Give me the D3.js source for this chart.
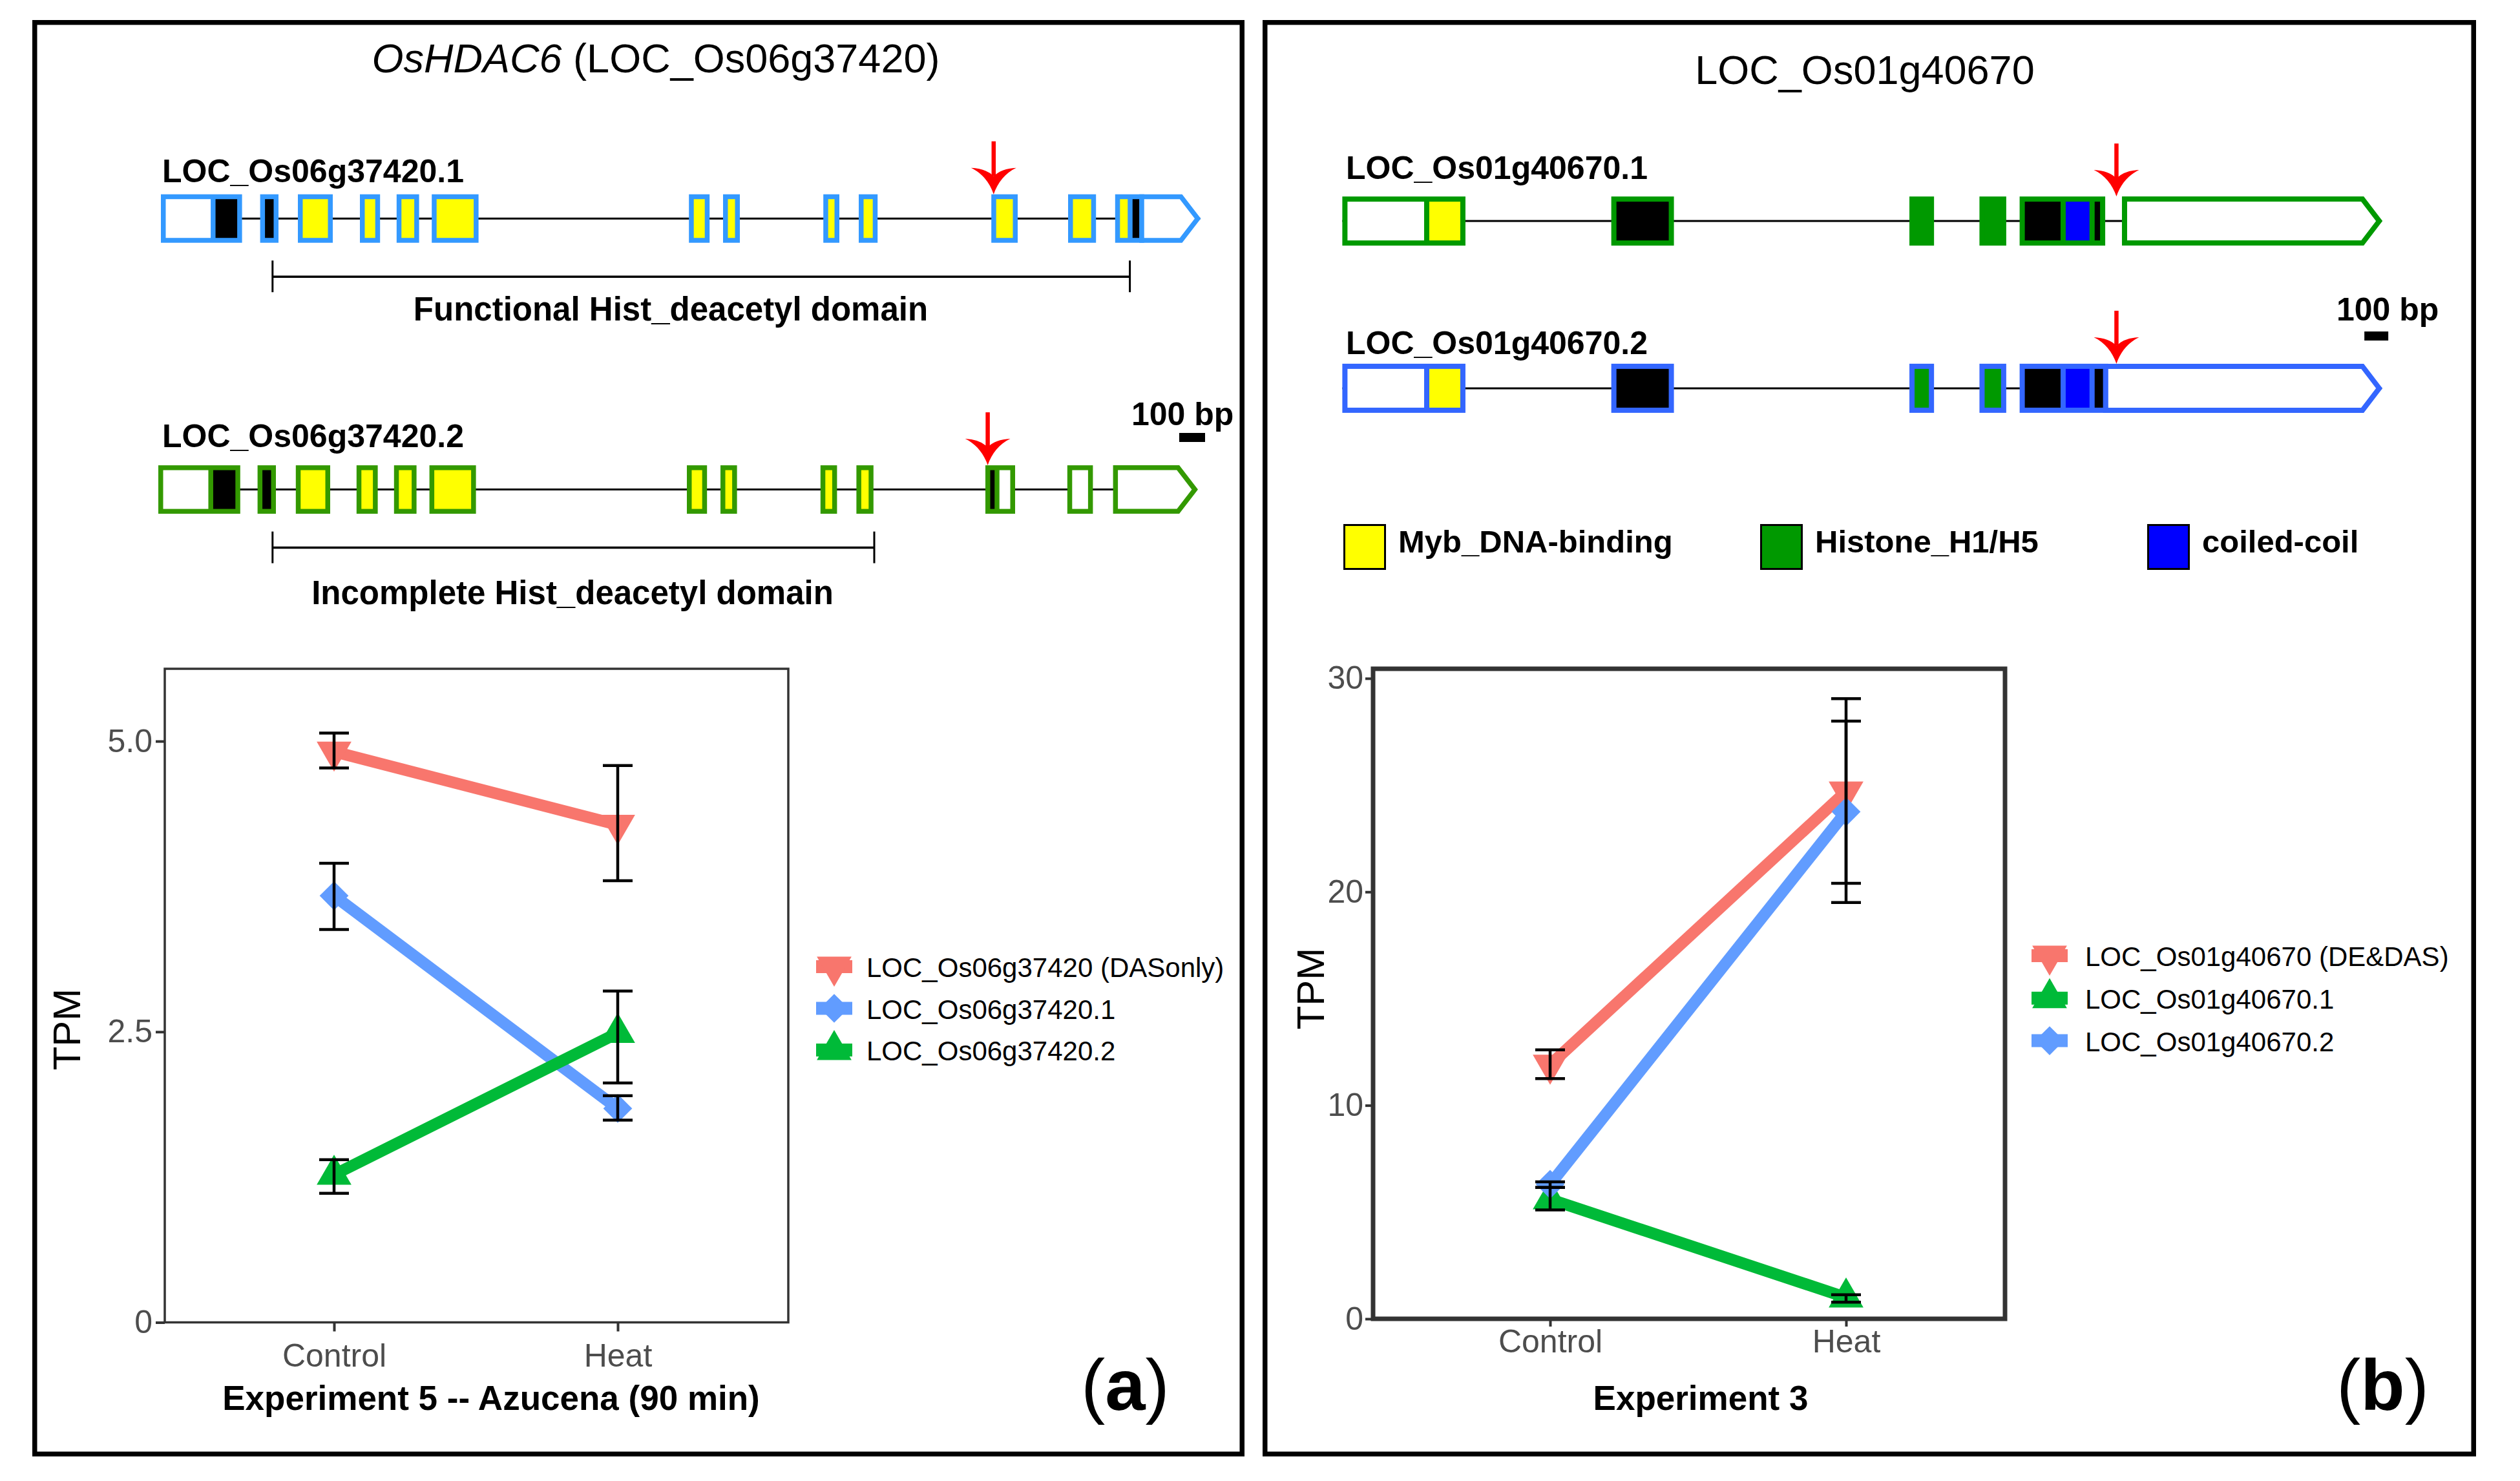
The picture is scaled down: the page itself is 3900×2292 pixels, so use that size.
<!DOCTYPE html>
<html>
<head>
<meta charset="utf-8">
<script src="https://cdn.jsdelivr.net/npm/d3@7"></script>
<style>
  body { margin: 0; background: #fff; }
</style>
</head>
<body>
<div id="chart"></div>
<script>
// ---------- expression data (TPM) ----------
const conditions = ["Control", "Heat"];

const seriesA = ["LOC_Os06g37420 (DASonly)", "LOC_Os06g37420.1", "LOC_Os06g37420.2"];
const meanA = [[4.91, 4.28], [3.67, 1.84], [1.27, 2.49]];
const lowA  = [[4.77, 3.80], [3.38, 1.74], [1.11, 2.06]];
const highA = [[5.07, 4.79], [3.95, 1.95], [1.40, 2.85]];
const ticksA = [0, 2.5, 5.0];
const tickLabelsA = ["0", "2.5", "5.0"];

const seriesB = ["LOC_Os01g40670 (DE&DAS)", "LOC_Os01g40670.1", "LOC_Os01g40670.2"];
const meanB = [[11.9, 24.7], [5.6, 1.0], [6.3, 23.75]];
const lowB  = [[11.25, 20.4], [5.1, 0.78], [6.15, 19.5]];
const highB = [[12.6, 29.05], [6.15, 1.13], [6.42, 28.0]];
const ticksB = [0, 10, 20, 30];
const tickLabelsB = ["0", "10", "20", "30"];

// ---------- gene models (bp from start of drawing, b = segment boundaries, f = feature) ----------
const transcriptsA = ["LOC_Os06g37420.1", "LOC_Os06g37420.2"];
const exonsA1 = [
  {b: [20, 222, 334], f: ["UTR", "CDS"]},
  {b: [404, 475], f: ["CDS"]},
  {b: [550, 685], f: ["HDAC"]},
  {b: [790, 868], f: ["HDAC"]},
  {b: [932, 1019], f: ["HDAC"]},
  {b: [1068, 1249], f: ["HDAC"]},
  {b: [2063, 2143], f: ["HDAC"]},
  {b: [2195, 2260], f: ["HDAC"]},
  {b: [2583, 2645], f: ["HDAC"]},
  {b: [2720, 2793], f: ["HDAC"]},
  {b: [3233, 3335], f: ["HDAC"]},
  {b: [3530, 3638], f: ["HDAC"]},
  {b: [3712, 3770, 3815, 4041], f: ["HDAC", "CDS", "UTR3"]}
];
const exonsA2 = [
  {b: [10, 213, 327], f: ["UTR", "CDS"]},
  {b: [394, 465], f: ["CDS"]},
  {b: [542, 675], f: ["HDAC"]},
  {b: [777, 859], f: ["HDAC"]},
  {b: [922, 1009], f: ["HDAC"]},
  {b: [1059, 1239], f: ["HDAC"]},
  {b: [2055, 2133], f: ["HDAC"]},
  {b: [2185, 2249], f: ["HDAC"]},
  {b: [2572, 2636], f: ["HDAC"]},
  {b: [2711, 2777], f: ["HDAC"]},
  {b: [3210, 3255, 3325], f: ["CDS", "UTR"]},
  {b: [3527, 3626], f: ["UTR"]},
  {b: [3704, 4030], f: ["UTR3"]}
];
const domainSpanA = [[452, 3769], [452, 2780]];
const domainLabelsA = ["Functional Hist_deacetyl domain", "Incomplete Hist_deacetyl domain"];
const arrowsA = [3242, 3219];

const transcriptsB = ["LOC_Os01g40670.1", "LOC_Os01g40670.2"];
const exonsB1 = [
  {b: [20, 373, 535], f: ["UTR", "MYB"]},
  {b: [1145, 1407], f: ["CDS"]},
  {b: [2392, 2495], f: ["H1"]},
  {b: [2685, 2797], f: ["H1"]},
  {b: [2853, 3035, 3156, 3211], f: ["CDS", "CC", "CDS"]},
  {b: [3281, 4368], f: ["UTR3"]}
];
const exonsB2 = [
  {b: [20, 373, 535], f: ["UTR", "MYB"]},
  {b: [1145, 1407], f: ["CDS"]},
  {b: [2392, 2495], f: ["H1"]},
  {b: [2685, 2797], f: ["H1"]},
  {b: [2853, 3035, 3156, 3213, 4368], f: ["CDS", "CC", "CDS", "UTR3"]}
];
const arrowsB = [3258, 3258];
const domainKeys = ["Myb_DNA-binding", "Histone_H1/H5", "coiled-coil"];

// ---------- styles ----------
const FONT = '"Liberation Sans", Arial, Helvetica, sans-serif';
const featureColor = {UTR: "#ffffff", UTR3: "#ffffff", CDS: "#000000", HDAC: "#ffff00",
                      MYB: "#ffff00", H1: "#009900", CC: "#0000ff"};
const keyColor = d3.scaleOrdinal().domain(domainKeys).range(["#ffff00", "#009900", "#0000ff"]);

const svg = d3.select("#chart").append("svg")
    .attr("width", 3900)
    .attr("height", 2292)
    .style("font-family", FONT);

svg.append("rect").attr("width", 3900).attr("height", 2292).attr("fill", "#fff");

// Panel frames
[[53.75, 1868.5], [1957.75, 1870.5]].forEach(([x, w]) => {
    svg.append("rect")
        .attr("x", x).attr("y", 34.75)
        .attr("width", w).attr("height", 2215.5)
        .attr("fill", "none")
        .attr("stroke", "#000")
        .attr("stroke-width", 7.5);
});

// Titles
const titleA = svg.append("text")
    .attr("x", 1015).attr("y", 112)
    .attr("text-anchor", "middle")
    .attr("font-size", 63);
titleA.append("tspan").attr("font-style", "italic").text("OsHDAC6");
titleA.append("tspan").text(" (LOC_Os06g37420)");

svg.append("text")
    .attr("x", 2886).attr("y", 130)
    .attr("text-anchor", "middle")
    .attr("font-size", 63)
    .text("LOC_Os01g40670");

// ---------- gene model drawing ----------
function drawArrow(g, xc, tip) {
    g.append("line")
        .attr("x1", xc).attr("x2", xc)
        .attr("y1", tip - 82).attr("y2", tip - 28)
        .attr("stroke", "#ff0000")
        .attr("stroke-width", 6.5);
    g.append("path")
        .attr("d", `M${xc},${tip} C${xc - 6},${tip - 18} ${xc - 18},${tip - 33} ${xc - 35},${tip - 41}` +
                   ` Q${xc - 12},${tip - 40} ${xc},${tip - 28} Q${xc + 12},${tip - 40} ${xc + 35},${tip - 41}` +
                   ` C${xc + 18},${tip - 33} ${xc + 6},${tip - 18} ${xc},${tip} Z`)
        .attr("fill", "#ff0000");
}

function drawExon(g, ex, xs, yc, h, sw, border) {
    const n = ex.f.length;
    const hasTail = ex.f[n - 1] === "UTR3";
    const boxN = hasTail ? n - 1 : n;
    const top = yc - h / 2, bottom = yc + h / 2;

    if (boxN > 0) {
        const x0 = xs(ex.b[0]);
        const x1 = hasTail ? xs(ex.b[boxN]) + sw / 2 : xs(ex.b[boxN]);
        g.append("rect")
            .attr("x", x0).attr("y", top)
            .attr("width", x1 - x0).attr("height", h)
            .attr("fill", border);
        for (let i = 0; i < boxN; i++) {
            let a = xs(ex.b[i]) + (i === 0 ? sw : sw / 2);
            let b = xs(ex.b[i + 1]) - (i === n - 1 ? sw : sw / 2);
            if (b - a < 3) { const m = (a + b) / 2; a = m - 1.5; b = m + 1.5; }
            g.append("rect")
                .attr("x", a).attr("y", top + sw)
                .attr("width", b - a).attr("height", h - 2 * sw)
                .attr("fill", featureColor[ex.f[i]]);
        }
    }
    if (hasTail) {
        const tipLen = 26;
        const a = boxN === 0 ? xs(ex.b[0]) + sw / 2 : xs(ex.b[n - 1]);
        const b = xs(ex.b[n]) - sw / 2;
        const t = top + sw / 2, bt = bottom - sw / 2;
        g.append("polygon")
            .attr("points", [[a, t], [b - tipLen, t], [b, yc], [b - tipLen, bt], [a, bt]].join(" "))
            .attr("fill", "#fff")
            .attr("stroke", border)
            .attr("stroke-width", sw);
    }
}

function drawGene(cfg) {
    const g = svg.append("g");
    const xs = d3.scaleLinear().domain([0, 100]).range([cfg.x0, cfg.x0 + cfg.px100]);
    const ys = d3.scalePoint().domain(cfg.names).range(cfg.rowY);

    cfg.names.forEach((name, i) => {
        const exons = cfg.exons[i];
        const yc = ys(name);
        const first = exons[0].b[0];
        const last = exons[exons.length - 1].b[exons[exons.length - 1].b.length - 1];

        // intron backbone
        g.append("line")
            .attr("x1", xs(first)).attr("x2", xs(last))
            .attr("y1", yc).attr("y2", yc)
            .attr("stroke", "#000")
            .attr("stroke-width", 3);

        exons.forEach(ex => drawExon(g, ex, xs, yc, cfg.rowH, cfg.sw, cfg.borders[i]));

        g.append("text")
            .attr("x", cfg.labelPos[i][0]).attr("y", cfg.labelPos[i][1])
            .attr("font-size", 50)
            .attr("font-weight", "bold")
            .text(name);

        drawArrow(g, xs(cfg.arrows[i]), yc - cfg.rowH / 2);

        if (cfg.domains) {
            const dy = yc + 90;
            const [d0, d1] = cfg.domains[i];
            g.append("line")
                .attr("x1", xs(d0)).attr("x2", xs(d1))
                .attr("y1", dy).attr("y2", dy)
                .attr("stroke", "#000").attr("stroke-width", 3.5);
            [d0, d1].forEach(d => {
                g.append("line")
                    .attr("x1", xs(d)).attr("x2", xs(d))
                    .attr("y1", dy - 25).attr("y2", dy + 24)
                    .attr("stroke", "#000").attr("stroke-width", 3);
            });
            g.append("text")
                .attr("x", cfg.domainText[i][0]).attr("y", cfg.domainText[i][1])
                .attr("text-anchor", "middle")
                .attr("font-size", 51)
                .attr("font-weight", "bold")
                .text(cfg.domainLabels[i]);
        }
    });

    // 100 bp scale bar
    const sb = cfg.scaleBar;
    g.append("rect")
        .attr("x", xs(sb.bp)).attr("y", sb.y)
        .attr("width", xs(sb.bp + 100) - xs(sb.bp)).attr("height", 14)
        .attr("fill", "#000");
    g.append("text")
        .attr("x", sb.textX).attr("y", sb.textY)
        .attr("font-size", 50)
        .attr("font-weight", "bold")
        .text("100 bp");
}

drawGene({
    names: transcriptsA,
    exons: [exonsA1, exonsA2],
    borders: ["#3399ff", "#339900"],
    x0: 241, px100: 40,
    rowY: [338.2, 757.6], rowH: 75, sw: 7.5,
    labelPos: [[251, 282], [251, 692]],
    arrows: arrowsA,
    domains: domainSpanA,
    domainLabels: domainLabelsA,
    domainText: [[1038, 496], [886, 935]],
    scaleBar: {bp: 3960, y: 670, textX: 1751, textY: 658}
});

drawGene({
    names: transcriptsB,
    exons: [exonsB1, exonsB2],
    borders: ["#009900", "#3366ff"],
    x0: 2070, px100: 37,
    rowY: [342.1, 600.9], rowH: 76, sw: 8,
    labelPos: [[2083, 277], [2083, 548]],
    arrows: arrowsB,
    scaleBar: {bp: 4295, y: 513, textX: 3616, textY: 496}
});

// Domain legend (panel b)
const keyX = [2079, 2724, 3323];
domainKeys.forEach((k, i) => {
    svg.append("rect")
        .attr("x", keyX[i] + 1.5).attr("y", 812.5)
        .attr("width", 63).attr("height", 68)
        .attr("fill", keyColor(k))
        .attr("stroke", "#000")
        .attr("stroke-width", 3);
    svg.append("text")
        .attr("x", keyX[i] + 85).attr("y", 855)
        .attr("font-size", 49)
        .attr("font-weight", "bold")
        .text(k);
});

// ---------- line charts ----------
const symbols = {
    down: {d: d3.symbol().type(d3.symbolTriangle).size(1250)(), rot: 180},
    up: {d: d3.symbol().type(d3.symbolTriangle).size(1250)(), rot: 0},
    diamond: {d: d3.symbol().type(d3.symbolSquare).size(1000)(), rot: 45}
};

function drawChart(cfg) {
    const g = svg.append("g");
    const p = cfg.plot;
    const x = d3.scalePoint().domain(conditions).range(cfg.xRange);
    const y = d3.scaleLinear().domain([0, cfg.yMax]).range([p.bottom, p.top]);
    const color = d3.scaleOrdinal().domain(cfg.series).range(cfg.colors);
    const shape = d3.scaleOrdinal().domain(cfg.series).range(cfg.shapes);

    const yAxis = g.append("g")
        .attr("transform", `translate(${p.left},0)`)
        .call(d3.axisLeft(y).tickValues(cfg.ticks)
            .tickFormat((d, i) => cfg.tickLabels[i])
            .tickSize(cfg.yTickSize).tickPadding(cfg.yTickPad));
    const xAxis = g.append("g")
        .attr("transform", `translate(0,${p.bottom})`)
        .call(d3.axisBottom(x).tickSize(cfg.xTickSize).tickPadding(cfg.xTickPad));

    [yAxis, xAxis].forEach(ax => {
        ax.attr("font-family", FONT).attr("font-size", cfg.tickFont);
        ax.select(".domain").remove();
        ax.selectAll(".tick line").attr("stroke", "#333").attr("stroke-width", 4);
        ax.selectAll(".tick text").attr("fill", "#4d4d4d");
    });

    const rows = cfg.series.map((s, i) => ({
        s,
        pts: conditions.map((c, j) => ({c, m: cfg.mean[i][j], lo: cfg.low[i][j], hi: cfg.high[i][j]}))
    }));

    const line = d3.line().x(d => x(d.c)).y(d => y(d.m));

    g.selectAll(".series-line")
        .data(rows)
        .join("path")
        .attr("class", "series-line")
        .attr("d", d => line(d.pts))
        .attr("fill", "none")
        .attr("stroke", d => color(d.s))
        .attr("stroke-width", 18);

    rows.forEach(r => {
        const sym = symbols[shape(r.s)];
        g.selectAll(null)
            .data(r.pts)
            .join("path")
            .attr("d", sym.d)
            .attr("transform", d => `translate(${x(d.c)},${y(d.m)}) rotate(${sym.rot})`)
            .attr("fill", color(r.s));
    });

    // error bars on top
    const allPts = rows.flatMap(r => r.pts);
    const eb = g.append("g").attr("stroke", "#000").attr("stroke-width", 4.5);
    eb.selectAll(".v").data(allPts).join("line")
        .attr("x1", d => x(d.c)).attr("x2", d => x(d.c))
        .attr("y1", d => y(d.lo)).attr("y2", d => y(d.hi));
    ["lo", "hi"].forEach(k => {
        eb.selectAll("." + k).data(allPts).join("line")
            .attr("class", k)
            .attr("x1", d => x(d.c) - 23).attr("x2", d => x(d.c) + 23)
            .attr("y1", d => y(d[k])).attr("y2", d => y(d[k]));
    });

    // panel border
    g.append("rect")
        .attr("x", p.left).attr("y", p.top)
        .attr("width", p.right - p.left).attr("height", p.bottom - p.top)
        .attr("fill", "none")
        .attr("stroke", "#333")
        .attr("stroke-width", cfg.frameWidth);

    // axis titles
    g.append("text")
        .attr("transform", `translate(${cfg.yTitle[0]},${cfg.yTitle[1]}) rotate(-90)`)
        .attr("text-anchor", "middle")
        .attr("font-size", 60)
        .text("TPM");
    g.append("text")
        .attr("x", cfg.xTitle[0]).attr("y", cfg.xTitle[1])
        .attr("text-anchor", "middle")
        .attr("font-size", 53)
        .attr("font-weight", "bold")
        .text(cfg.xTitleText);

    // legend
    const lg = cfg.legend;
    cfg.series.forEach((s, i) => {
        const yb = lg.y0 + i * lg.dy;
        const yk = yb - 16;
        g.append("line")
            .attr("x1", lg.keyX - 28).attr("x2", lg.keyX + 28)
            .attr("y1", yk).attr("y2", yk)
            .attr("stroke", color(s))
            .attr("stroke-width", 20);
        const sym = symbols[shape(s)];
        g.append("path")
            .attr("d", sym.d)
            .attr("transform", `translate(${lg.keyX},${yk}) rotate(${sym.rot})`)
            .attr("fill", color(s));
        g.append("text")
            .attr("x", lg.textX).attr("y", yb)
            .attr("font-size", 42)
            .text(s);
    });

    // panel tag
    const tag = g.append("text")
        .attr("x", cfg.tag[0]).attr("y", cfg.tag[1])
        .attr("font-size", 112);
    tag.append("tspan").text("(");
    tag.append("tspan").attr("font-weight", "bold").text(cfg.tagLetter);
    tag.append("tspan").text(")");
}

drawChart({
    series: seriesA, mean: meanA, low: lowA, high: highA,
    ticks: ticksA, tickLabels: tickLabelsA,
    colors: ["#F8766D", "#619CFF", "#00BA38"],
    shapes: ["down", "diamond", "up"],
    plot: {left: 255, right: 1220, top: 1035, bottom: 2046.5},
    yMax: 5.623, xRange: [517, 956],
    frameWidth: 3.5, tickFont: 50,
    yTickSize: 14, yTickPad: 5, xTickSize: 14, xTickPad: 19,
    yTitle: [124, 1593],
    xTitle: [760, 2182], xTitleText: "Experiment 5 -- Azucena (90 min)",
    legend: {keyX: 1291, textX: 1341, y0: 1512, dy: 64.5},
    tag: [1673, 2182], tagLetter: "a"
});

drawChart({
    series: seriesB, mean: meanB, low: lowB, high: highB,
    ticks: ticksB, tickLabels: tickLabelsB,
    colors: ["#F8766D", "#00BA38", "#619CFF"],
    shapes: ["down", "up", "diamond"],
    plot: {left: 2125, right: 3103, top: 1035, bottom: 2041},
    yMax: 30.45, xRange: [2399, 2857],
    frameWidth: 7, tickFont: 50,
    yTickSize: 12, yTickPad: 3, xTickSize: 12, xTickPad: 4,
    yTitle: [2049, 1530],
    xTitle: [2632, 2182], xTitleText: "Experiment 3",
    legend: {keyX: 3172, textX: 3227, y0: 1495, dy: 65.8},
    tag: [3616, 2182], tagLetter: "b"
});
</script>
</body>
</html>
